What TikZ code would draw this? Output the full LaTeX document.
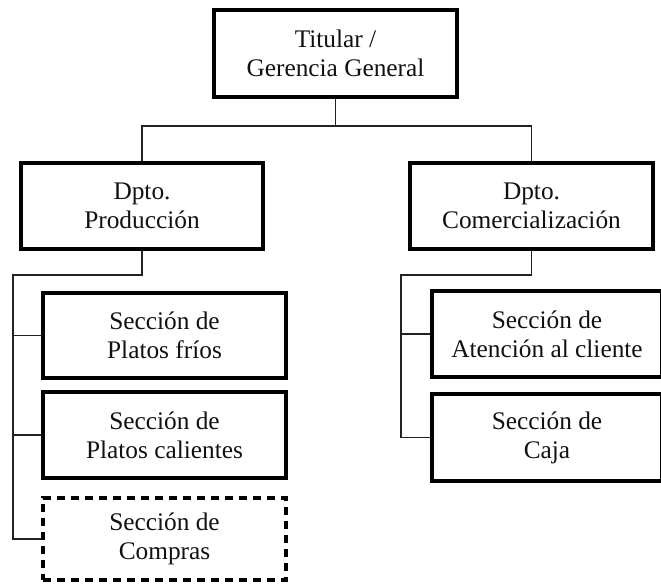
\documentclass[tikz,border=0pt]{standalone}
\usepackage{fontspec}
\setmainfont{Liberation Serif}
\definecolor{txt}{HTML}{111111}
\definecolor{ln}{HTML}{222222}
\begin{document}
\begin{tikzpicture}[x=0.75pt,y=-0.75pt,
  box/.style={draw=black,line width=2.3pt,rectangle,align=center,inner sep=0pt,
    text=txt,font=\fontsize{19}{21.75}\selectfont},
  dbox/.style={box,dashed,dash pattern=on 6pt off 4.5pt},
  conn/.style={draw=ln,line width=1pt}]
\useasboundingbox (0,0) rectangle (661,585);
\node[box,minimum width=243*0.75pt,minimum height=87*0.75pt] (top) at (335.5,53.5) {Titular /\\Gerencia General};
\node[box,minimum width=242*0.75pt,minimum height=86*0.75pt] (prod) at (142,206) {Dpto.\\Producción};
\node[box,minimum width=243*0.75pt,minimum height=86*0.75pt] (com) at (531.5,206) {Dpto.\\Comercialización};
\node[box,minimum width=243*0.75pt,minimum height=85*0.75pt] (pf) at (164.5,335.5) {Sección de\\Platos fríos};
\node[box,minimum width=243*0.75pt,minimum height=86*0.75pt] (pc) at (164.5,435) {Sección de\\Platos calientes};
\node[dbox,minimum width=243*0.75pt,minimum height=82*0.75pt] (cp) at (164.5,539) {Sección de\\Compras};
\node[box,minimum width=230*0.75pt,minimum height=86*0.75pt] (at) at (547,334) {Sección de\\Atención al cliente};
\node[box,minimum width=230*0.75pt,minimum height=87*0.75pt] (cj) at (547,437.5) {Sección de\\Caja};
\coordinate (busA) at (335.5,126);
\coordinate (busL) at (13,275);
\coordinate (busR) at (401,275);
\draw[conn] (top.south) -- (busA);
\draw[conn] (prod.north) |- (busA -| com.north) -- (com.north);
\draw[conn] (prod.south) |- (busL) -- (busL |- cp.west) -- (cp.west);
\draw[conn] (busL |- pf.west) -- (pf.west);
\draw[conn] (busL |- pc.west) -- (pc.west);
\draw[conn] (com.south) |- (busR) -- (busR |- cj.west) -- (cj.west);
\draw[conn] (busR |- at.west) -- (at.west);
\end{tikzpicture}
\end{document}
